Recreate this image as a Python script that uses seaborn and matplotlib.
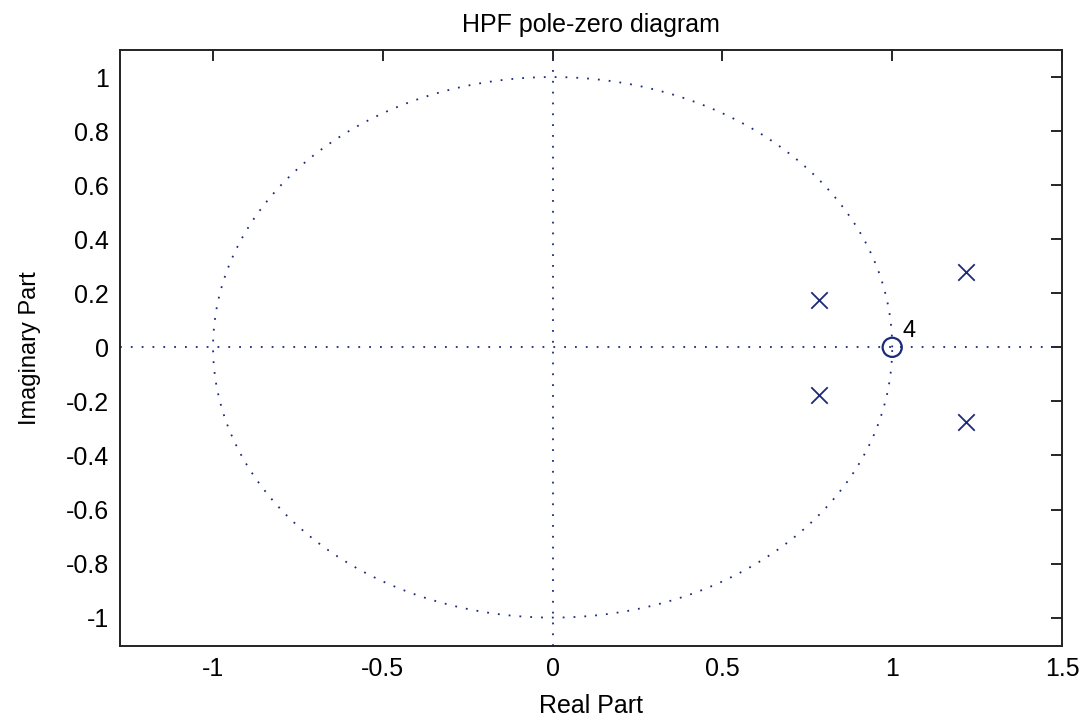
import numpy as np
import pandas as pd
import matplotlib
matplotlib.use("Agg")
import matplotlib.pyplot as plt
import seaborn as sns

# Data
pole_real = [0.785, 0.785, 1.218, 1.218]
pole_imag = [0.175, -0.175, 0.278, -0.278]
zero_real = [1.0]
zero_imag = [0.0]
zero_multiplicity = ["4"]
x_ticks = [-1, -0.5, 0, 0.5, 1, 1.5]
y_ticks = [-1, -0.8, -0.6, -0.4, -0.2, 0, 0.2, 0.4, 0.6, 0.8, 1]

sns.set_theme(style="white")
plt.rcParams['font.family'] = ['Liberation Sans', 'DejaVu Sans']
plt.rcParams['text.color'] = 'black'
plt.rcParams['axes.labelcolor'] = 'black'

color = '#1c2a7a'
fig = plt.figure(figsize=(10.91, 7.16), dpi=100)
ax = fig.add_axes([120/1091, 1-646/716, (1062-120)/1091, (646-50)/716])

theta = np.linspace(0, 2*np.pi, 400)
circle = pd.DataFrame({"x": np.cos(theta), "y": np.sin(theta)})
ax.plot(circle["x"], circle["y"], linestyle=(0, (1, 5)), color=color, lw=1.3)
ax.axhline(0, linestyle=(0, (1, 5)), color=color, lw=1.3)
ax.axvline(0, linestyle=(0, (1, 5)), color=color, lw=1.3)

poles = pd.DataFrame({"re": pole_real, "im": pole_imag})
zeros = pd.DataFrame({"re": zero_real, "im": zero_imag})
sns.scatterplot(data=poles, x="re", y="im", marker="x", s=140, color=color, linewidth=1.3, ax=ax, zorder=3)
sns.scatterplot(data=zeros, x="re", y="im", marker="o", s=190, facecolor="none", edgecolor=color, linewidth=1.6, ax=ax, zorder=3)
for r, i, m in zip(zero_real, zero_imag, zero_multiplicity):
    ax.text(r + 0.03, i + 0.02, m, fontsize=17, color='black', ha='left', va='bottom')

ax.set_xlim(-1.274, 1.5)
ax.set_ylim(-1.105, 1.1)
ax.set_xticks(x_ticks)
ax.set_xticklabels(["-1", "-0.5", "0", "0.5", "1", "1.5"])
ax.set_yticks(y_ticks)
ax.set_yticklabels(["-1", "-0.8", "-0.6", "-0.4", "-0.2", "0", "0.2", "0.4", "0.6", "0.8", "1"])
ax.tick_params(direction='in', length=8, width=1.2, top=True, right=True, labelsize=18, colors='black', pad=8)
for sp in ax.spines.values():
    sp.set_color('#222222')
    sp.set_linewidth(1.4)
ax.set_xlabel("Real Part", fontsize=18, labelpad=9, color='black')
ax.set_ylabel("Imaginary Part", fontsize=17, labelpad=18, color='black')
ax.set_title("HPF pole-zero diagram", fontsize=18, pad=13, color='black')
ax.grid(False)

fig.savefig("out.png", dpi=100)
